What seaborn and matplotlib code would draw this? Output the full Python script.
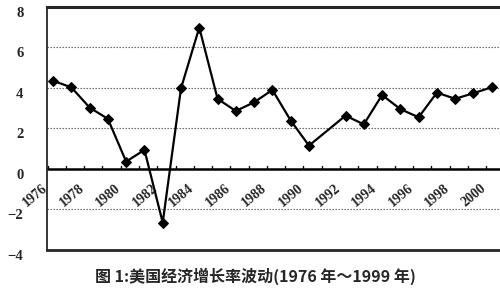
import matplotlib
matplotlib.use("Agg")
import matplotlib.pyplot as plt
import matplotlib.transforms as mtransforms
import pandas as pd
import seaborn as sns

# data (no marker at 1991 in the original)
years = list(range(1976, 2001))
growth = [4.35, 4.03, 3.03, 2.47, 0.36, 0.94, -2.65, 3.98, 6.98, 3.46,
          2.86, 3.29, 3.90, 2.39, 1.15, None, 2.63, 2.20, 3.65, 2.95,
          2.55, 3.77, 3.46, 3.74, 4.03]
label_years = list(range(1976, 2001, 2))
y_ticks = [-4, -2, 0, 2, 4, 6, 8]
title = "图 1:美国经济增长率波动(1976 年～1999 年)"

df = pd.DataFrame({"year": years, "growth": growth}).dropna()

sns.set_style("white")
plt.rcParams["font.family"] = ["Liberation Serif", "DejaVu Serif"]

fig = plt.figure(figsize=(5, 3.07), dpi=100)
ax = fig.add_axes([0.094, 0.186, 0.906, 0.7915])

sns.lineplot(data=df, x="year", y="growth", ax=ax, color="black",
             linewidth=1.6, marker="D", markersize=5.5,
             markeredgecolor="black", markerfacecolor="black")

ax.set_xlim(1975.67, 2000.45)
ax.set_ylim(-4, 8)
ax.set_xlabel("")
ax.set_ylabel("")

# dotted horizontal gridlines
for v in y_ticks:
    if v not in (-4, 0, 8):
        ax.axhline(v, color="#555555", linestyle=(0, (1.2, 1.5)),
                   linewidth=0.8, zorder=0)

# frame
ax.spines["right"].set_visible(False)
ax.spines["top"].set_linewidth(2.2)
ax.spines["left"].set_linewidth(1.3)
ax.spines["bottom"].set_linewidth(2.0)
ax.axhline(0, color="black", linewidth=1.8, zorder=1)

# small ticks sitting on the zero line
for y in years:
    ax.plot([y - 0.3, y - 0.3], [0, 0.13], color="black", linewidth=1.0)

# year labels hang under the zero line
ax.set_xticks(label_years)
ax.set_xticklabels([str(y) for y in label_years], rotation=40,
                   ha="right", va="center", rotation_mode="anchor",
                   fontsize=10, fontweight="bold")
ax.tick_params(axis="x", length=0, pad=0)
for lab in ax.get_xticklabels():
    lab.set_transform(ax.transData
                      + mtransforms.ScaledTranslation(-0.07, -0.18, fig.dpi_scale_trans))
    lab.set_y(0)

ax.set_yticks(y_ticks)
ax.set_yticklabels([str(v).replace("-", "\u2212") for v in y_ticks],
                   fontsize=10.5, fontweight="bold")
ax.tick_params(axis="y", length=0, pad=17)
# the scanned labels sit a little below their gridlines
for lab in ax.get_yticklabels():
    lab.set_transform(lab.get_transform()
                      + mtransforms.ScaledTranslation(0, -0.05, fig.dpi_scale_trans))

fig.text(0.51, 0.10, title, ha="center", va="center", fontsize=11.5,
         fontweight="bold", family=["Noto Sans CJK SC", "DejaVu Sans"])

fig.savefig("out.png", dpi=100)
